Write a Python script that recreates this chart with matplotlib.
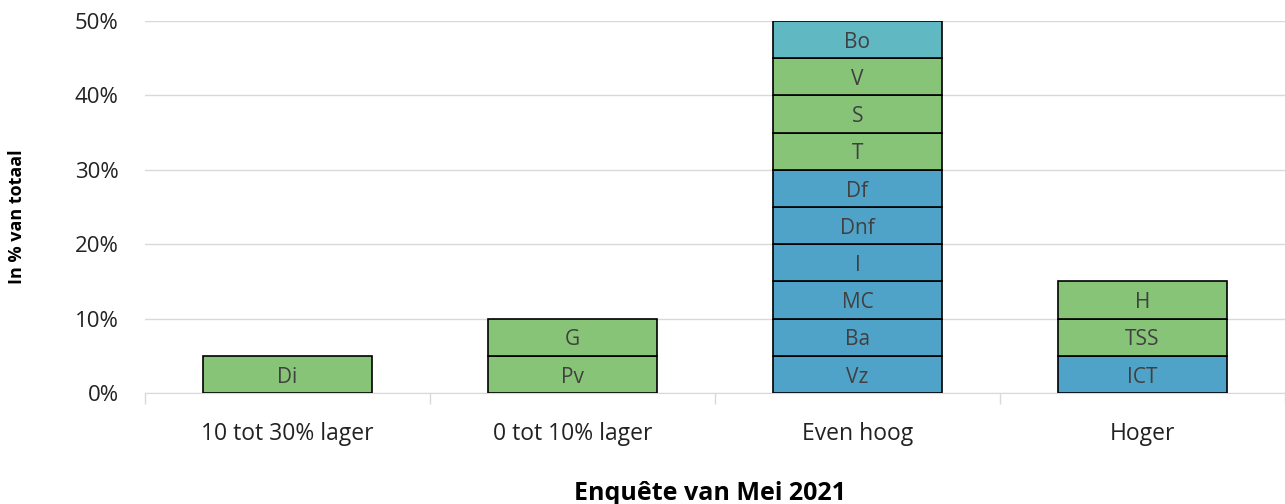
import matplotlib
matplotlib.use("Agg")
import matplotlib.pyplot as plt
import numpy as np

# ---- data
categories = ["10 tot 30% lager", "0 tot 10% lager", "Even hoog", "Hoger"]
seg_labels = [
    ["Di"],
    ["Pv", "G"],
    ["Vz", "Ba", "MC", "I", "Dnf", "Df", "T", "S", "V", "Bo"],
    ["ICT", "TSS", "H"],
]
seg_values = [
    [5],
    [5, 5],
    [5, 5, 5, 5, 5, 5, 5, 5, 5, 5],
    [5, 5, 5],
]
seg_groups = [
    ["g"],
    ["g", "g"],
    ["b", "b", "b", "b", "b", "b", "g", "g", "g", "t"],
    ["b", "g", "g"],
]
yticks = [0, 10, 20, 30, 40, 50]

colors = {"g": "#88C478", "b": "#50A3C8", "t": "#5FB8C2"}

plt.rcParams['font.family'] = ['Open Sans', 'DejaVu Sans']

fig = plt.figure(figsize=(12.85, 5.04), dpi=100)
ax = fig.add_axes([0.1128, 0.2202, 0.8872, 0.7381])

for i in range(len(categories)):
    bottom = 0
    for lab, val, grp in zip(seg_labels[i], seg_values[i], seg_groups[i]):
        ax.bar(i, val, bottom=bottom, width=0.59, color=colors[grp],
               edgecolor="black", linewidth=1.2, zorder=3)
        ax.text(i, bottom + val / 2 - 0.35, lab, ha="center", va="center",
                fontsize=15, color="#404040", zorder=4)
        bottom += val

ax.set_xlim(-0.5, 3.5)
ax.set_ylim(0, 50)
ax.set_yticks(yticks)
ax.set_yticklabels([f"{v}%" for v in yticks], fontsize=16, color="#222222")
ax.yaxis.grid(True, color="#d9d9d9", linewidth=1, zorder=0)
ax.tick_params(axis="y", length=0, pad=19)

ax.set_xticks(range(len(categories)))
ax.set_xticklabels(categories, fontsize=16.5, color="#222222")
ax.tick_params(axis="x", length=0, pad=21)
# category boundary ticks
ax.set_xticks(np.arange(-0.5, 4, 1), minor=True)
ax.tick_params(axis="x", which="minor", length=8, color="#d9d9d9", width=1)

for s in ["top", "right", "left"]:
    ax.spines[s].set_visible(False)
ax.spines["bottom"].set_color("#d9d9d9")

ax.set_xlabel("Enquête van Mei 2021", fontsize=18, fontweight="bold")
ax.xaxis.set_label_coords(0.4956, -0.236)
ax.set_ylabel("In % van totaal", fontsize=13, fontweight="bold")
ax.yaxis.set_label_coords(-0.104, 0.473)

fig.savefig("out.png", dpi=100)
